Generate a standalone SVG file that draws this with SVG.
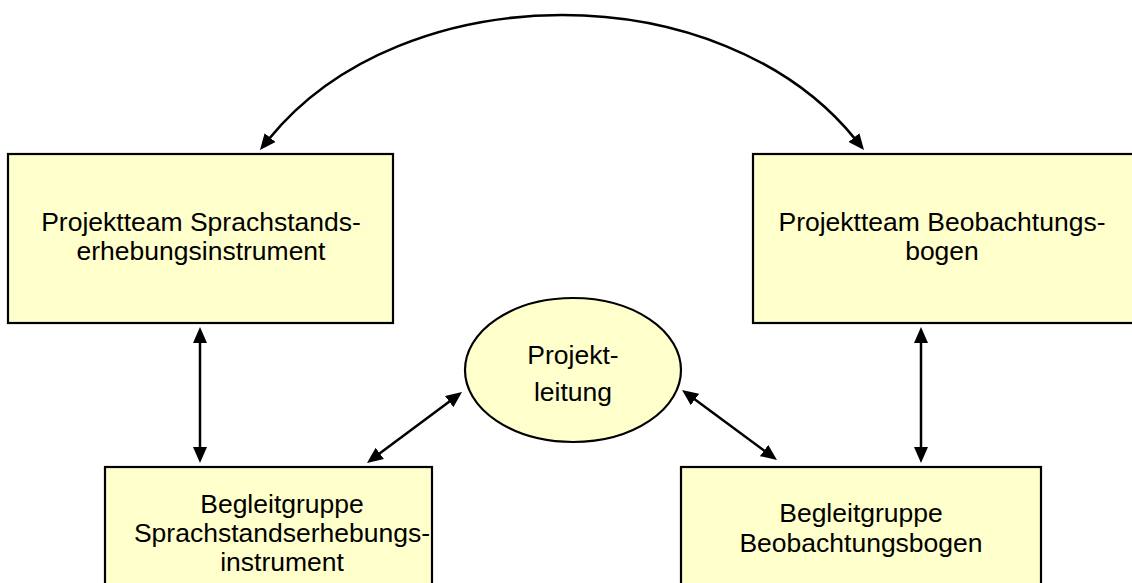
<svg xmlns="http://www.w3.org/2000/svg" width="1132" height="583" viewBox="0 0 1132 583">
  <style>
    .box { fill: #FFFFCC; stroke: #000; stroke-width: 2.2; }
    .lbl { font-family: "Liberation Sans", Arial, sans-serif; font-size: 26.5px; fill: #000; text-anchor: middle; }
    .conn { fill: none; stroke: #000; stroke-width: 2.5; marker-start: url(#ah); marker-end: url(#ah); }
  </style>
  <defs>
    <marker id="ah" viewBox="0 0 16 14" refX="2" refY="7" markerWidth="16" markerHeight="14" markerUnits="userSpaceOnUse" orient="auto-start-reverse">
      <path d="M0,0 L16,7 L0,14 z" fill="#000"/>
    </marker>
  </defs>
  <rect width="1132" height="583" fill="#fff"/>

  <g id="pt-sprach">
    <rect class="box" x="8" y="154" width="385" height="169"/>
    <text class="lbl" x="201" y="231">Projektteam Sprachstands-</text>
    <text class="lbl" x="201" y="260">erhebungsinstrument</text>
  </g>

  <g id="pt-beob">
    <rect class="box" x="753" y="154" width="390" height="169"/>
    <text class="lbl" x="942" y="231">Projektteam Beobachtungs-</text>
    <text class="lbl" x="942" y="260">bogen</text>
  </g>

  <g id="projektleitung">
    <ellipse class="box" cx="573" cy="370" rx="108" ry="72"/>
    <text class="lbl" x="573" y="364">Projekt-</text>
    <text class="lbl" x="573" y="401">leitung</text>
  </g>

  <g id="bg-sprach">
    <rect class="box" x="105" y="467" width="327" height="130"/>
    <text class="lbl" x="282" y="513">Begleitgruppe</text>
    <text class="lbl" x="282" y="542">Sprachstandserhebungs-</text>
    <text class="lbl" x="282" y="571">instrument</text>
  </g>

  <g id="bg-beob">
    <rect class="box" x="681" y="467" width="360" height="130"/>
    <text class="lbl" x="861" y="522">Begleitgruppe</text>
    <text class="lbl" x="861" y="552">Beobachtungsbogen</text>
  </g>

  <g id="connectors">
    <path class="conn" d="M268.8,139.1 C403,-26.3 721,-26.3 855.2,139.1"/>
    <path class="conn" d="M200,341 L200,449"/>
    <path class="conn" d="M921,341 L921,449"/>
    <path class="conn" d="M450.8,400.4 L378.2,454.6"/>
    <path class="conn" d="M693.3,398.3 L765.7,451.7"/>
  </g>
</svg>
